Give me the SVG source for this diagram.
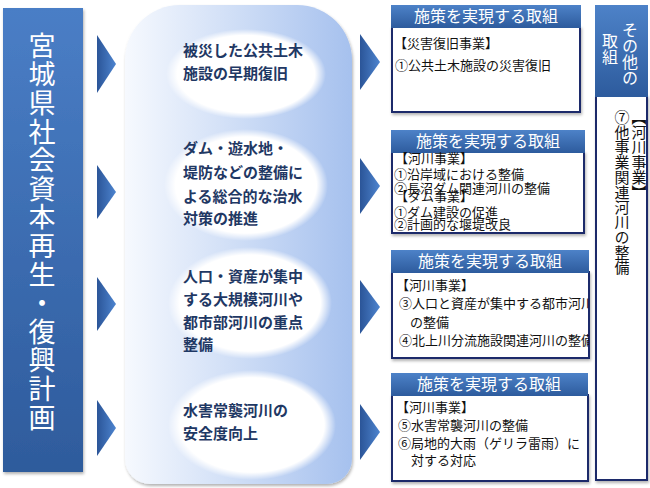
<svg xmlns="http://www.w3.org/2000/svg" width="650" height="488" viewBox="0 0 650 488">
<defs>
<linearGradient id="gLeft" x1="0" y1="0" x2="0" y2="1">
<stop offset="0" stop-color="#4a7ec6"/><stop offset="1" stop-color="#2e5b9c"/>
</linearGradient>
<linearGradient id="gHead" x1="0" y1="0" x2="0" y2="1">
<stop offset="0" stop-color="#4d82c8"/><stop offset="1" stop-color="#2d5b9d"/>
</linearGradient>
<linearGradient id="gPill" x1="0" y1="0" x2="1" y2="0">
<stop offset="0" stop-color="#f6f9fe"/><stop offset="1" stop-color="#a6c1ee"/>
</linearGradient>
<linearGradient id="gTri" x1="0" y1="0" x2="1" y2="0">
<stop offset="0" stop-color="#2b5598"/><stop offset="1" stop-color="#4d84cf"/>
</linearGradient>
<radialGradient id="gEll" cx="0.5" cy="0.5" r="0.5">
<stop offset="0" stop-color="#ffffff"/><stop offset="0.86" stop-color="#ffffff"/><stop offset="1" stop-color="#ffffff" stop-opacity="0"/>
</radialGradient>
<filter id="sh" x="-10%" y="-10%" width="130%" height="130%">
<feDropShadow dx="1" dy="2" stdDeviation="1.5" flood-color="#000" flood-opacity="0.3"/>
</filter>
<clipPath id="c3"><rect x="392" y="272" width="197" height="86"/></clipPath>
<style>
.ell{font-family:"Noto Sans CJK JP","Noto Sans",sans-serif;font-weight:bold;font-size:15px;fill:#1f3864}
.hd{font-family:"Noto Sans CJK JP","Noto Sans",sans-serif;font-size:16px;fill:#ffffff;text-anchor:middle}
.bd{font-family:"Noto Sans CJK JP","Noto Sans",sans-serif;font-size:13px;fill:#111111}
.body{fill:#ffffff;stroke:#1b2a6b;stroke-width:2}
.vt{writing-mode:vertical-rl;font-family:"Noto Sans CJK JP","Noto Sans",sans-serif}
</style>
</defs>
<rect width="650" height="488" fill="#ffffff"/>

<g id="plan-title">
<rect x="3" y="8" width="80" height="464" fill="url(#gLeft)" filter="url(#sh)"/>
<text class="vt" x="42" y="32" font-size="27" letter-spacing="1.6" fill="#ffffff">宮城県社会資本再生・復興計画</text>
</g>

<g id="measures-panel">
<path d="M125,60 A55,55 0 0 1 180,5 L297,5 A55,55 0 0 1 352,60 L352,459 A25,25 0 0 1 327,484 L150,484 A25,25 0 0 1 125,459 Z" fill="url(#gPill)" filter="url(#sh)"/>
</g>

<g id="measure-1">
<ellipse cx="246" cy="74" rx="80" ry="45" fill="url(#gEll)"/>
<text class="ell" x="183" y="56">被災した公共土木</text>
<text class="ell" x="183" y="79">施設の早期復旧</text>
</g>
<g id="measure-2">
<ellipse cx="246" cy="185" rx="82" ry="56" fill="url(#gEll)"/>
<text class="ell" x="183" y="154">ダム・遊水地・</text>
<text class="ell" x="183" y="178">堤防などの整備に</text>
<text class="ell" x="183" y="202">よる総合的な治水</text>
<text class="ell" x="183" y="224">対策の推進</text>
</g>
<g id="measure-3">
<ellipse cx="250" cy="303" rx="82" ry="56" fill="url(#gEll)"/>
<text class="ell" x="183" y="282">人口・資産が集中</text>
<text class="ell" x="183" y="305">する大規模河川や</text>
<text class="ell" x="183" y="328">都市部河川の重点</text>
<text class="ell" x="183" y="350">整備</text>
</g>
<g id="measure-4">
<ellipse cx="252" cy="425" rx="84" ry="55" fill="url(#gEll)"/>
<text class="ell" x="183" y="416">水害常襲河川の</text>
<text class="ell" x="183" y="439">安全度向上</text>
</g>

<g id="connectors" fill="url(#gTri)">
<polygon points="97,35 116,64 97,93"/>
<polygon points="97,165 116,192 97,219"/>
<polygon points="97,277 116,304 97,331"/>
<polygon points="97,400 116,428 97,456"/>
<polygon points="360,34 380,62 360,90"/>
<polygon points="360,158 380,186 360,214"/>
<polygon points="360,280 380,307 360,334"/>
<polygon points="360,404 380,432 360,460"/>
</g>

<g id="action-1">
<rect class="body" x="392" y="27" width="188" height="85" filter="url(#sh)"/>
<rect x="391" y="5" width="190" height="23" fill="url(#gHead)"/>
<text class="hd" x="486" y="22">施策を実現する取組</text>
<text class="bd" x="394" y="48">【災害復旧事業】</text>
<text class="bd" x="395" y="70">①公共土木施設の災害復旧</text>
</g>
<g id="action-2">
<rect class="body" x="392" y="152" width="192" height="81" filter="url(#sh)"/>
<rect x="391" y="130" width="194" height="23" fill="url(#gHead)"/>
<text class="hd" x="488" y="147">施策を実現する取組</text>
<text class="bd" x="395" y="163" font-size="12.5">【河川事業】</text>
<text class="bd" x="394" y="179" font-size="12.5">①沿岸域における整備</text>
<text class="bd" x="394" y="193" font-size="12.5">②長沼ダム関連河川の整備</text>
<text class="bd" x="395" y="201" font-size="12.5">【ダム事業】</text>
<text class="bd" x="394" y="217" font-size="12.5">①ダム建設の促進</text>
<text class="bd" x="394" y="229" font-size="12.5">②計画的な堰堤改良</text>
</g>
<g id="action-3">
<rect class="body" x="392" y="272" width="197" height="86" filter="url(#sh)"/>
<rect x="391" y="250" width="198" height="23" fill="url(#gHead)"/>
<text class="hd" x="490" y="267">施策を実現する取組</text>
<g clip-path="url(#c3)">
<text class="bd" x="396" y="290">【河川事業】</text>
<text class="bd" x="399" y="308">③人口と資産が集中する都市河川</text>
<text class="bd" x="410" y="327">の整備</text>
<text class="bd" x="399" y="345">④北上川分流施設関連河川の整備</text>
</g>
</g>
<g id="action-4">
<rect class="body" x="392" y="395" width="196" height="86" filter="url(#sh)"/>
<rect x="391" y="373" width="197" height="23" fill="url(#gHead)"/>
<text class="hd" x="489" y="390">施策を実現する取組</text>
<text class="bd" x="396" y="412">【河川事業】</text>
<text class="bd" x="398" y="430">⑤水害常襲河川の整備</text>
<text class="bd" x="398" y="448">⑥局地的大雨（ゲリラ雷雨）に</text>
<text class="bd" x="411" y="465">対する対応</text>
</g>

<g id="other-actions">
<rect class="body" x="596" y="96" width="51" height="384" filter="url(#sh)"/>
<rect x="595" y="5" width="53" height="92" fill="url(#gHead)"/>
<text class="vt" x="630" y="22" font-size="16" fill="#ffffff">その他の</text>
<text class="vt" x="610" y="33" font-size="16" fill="#ffffff">取組</text>
<text class="vt" x="639" y="110" font-size="15" fill="#111111">【河川事業】</text>
<text class="vt" x="622" y="110" font-size="15" fill="#111111">⑦他事業関連河川の整備</text>
</g>
</svg>
